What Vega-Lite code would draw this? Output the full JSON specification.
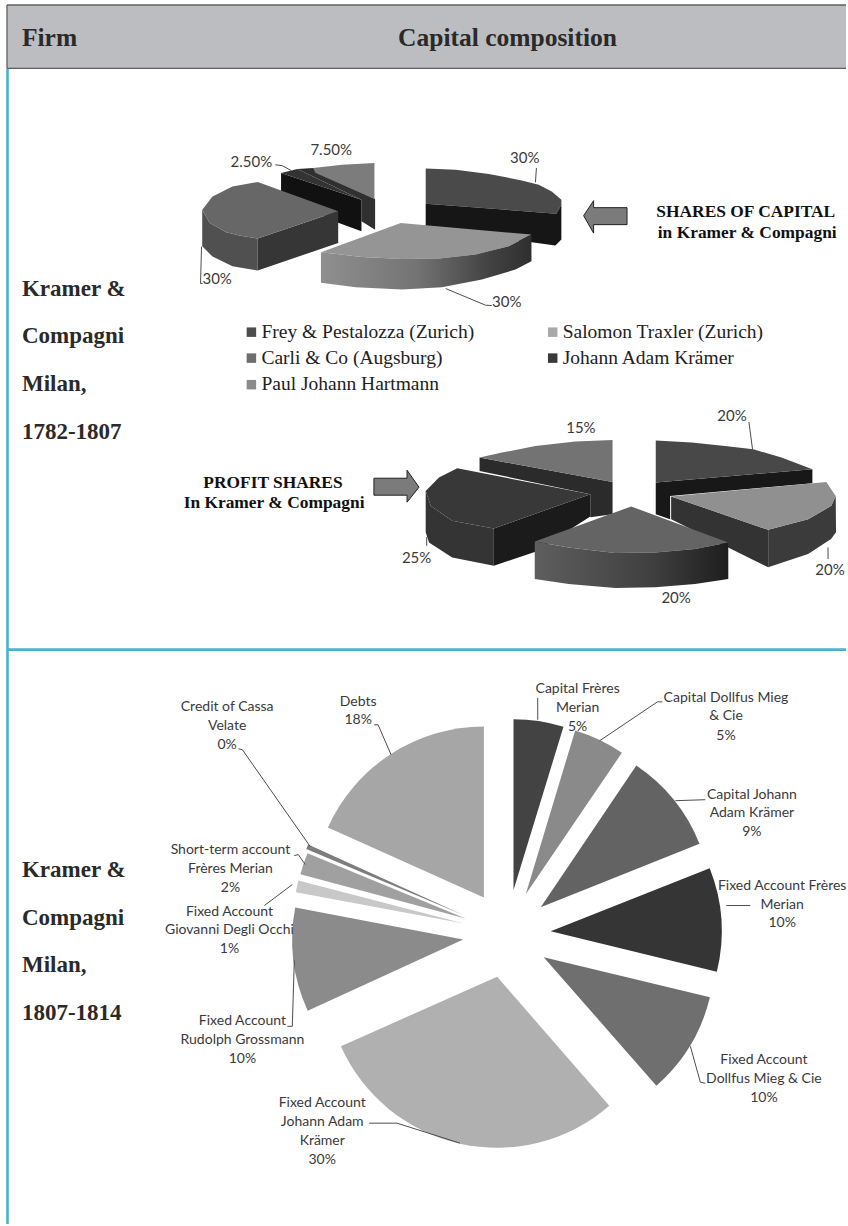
{"$schema":"https://vega.github.io/schema/vega-lite/v6.json","width":848,"height":1226,"autosize":{"type":"fit","contains":"padding"},"padding":0,"background":"white","view":{"stroke":null},
"encoding":{"x":{"field":"x","type":"quantitative","scale":{"domain":[0,848],"nice":false,"zero":false},"axis":null},"y":{"field":"y","type":"quantitative","scale":{"domain":[0,1226],"reverse":true,"nice":false,"zero":false},"axis":null}},
"resolve":{"scale":{"color":"independent"}},
"layer":[
{"data":{"values":[{"x":7,"x2":848,"y":5,"y2":68.5}]},"mark":{"type":"rect","fill":"#bcbdc0"},"encoding":{"x2":{"field":"x2"},"y2":{"field":"y2"}}},
{"data":{"values":[{"x":7,"x2":848,"y":5,"y2":5},{"x":7,"x2":848,"y":68.5,"y2":68.5},{"x":7,"x2":7,"y":5,"y2":68.5}]},"mark":{"type":"rule","stroke":"#5f5f5f","strokeWidth":1.3},"encoding":{"x2":{"field":"x2"},"y2":{"field":"y2"}}},
{"data":{"values":[{"x":7.5,"x2":7.5,"y":69,"y2":1226},{"x":7,"x2":848,"y":650.7,"y2":650.7}]},"mark":{"type":"rule","stroke":"#4ab2cf","strokeWidth":2.6},"encoding":{"x2":{"field":"x2"},"y2":{"field":"y2"}}},
{"data":{"values":[
{"f":"Atop","i":0,"x":426.7,"y":168.7},{"f":"Atop","i":1,"x":456.7,"y":170},{"f":"Atop","i":2,"x":490,"y":174.3},{"f":"Atop","i":3,"x":523,"y":180.7},{"f":"Atop","i":4,"x":540,"y":185},{"f":"Atop","i":5,"x":553,"y":191.7},{"f":"Atop","i":6,"x":562.7,"y":200},{"f":"Atop","i":7,"x":562.7,"y":205},{"f":"Atop","i":8,"x":557.7,"y":214},{"f":"Atop","i":9,"x":426.7,"y":204},
{"f":"Aside","i":0,"x":426.7,"y":204},{"f":"Aside","i":1,"x":557.7,"y":214},{"f":"Aside","i":2,"x":562.7,"y":205},{"f":"Aside","i":3,"x":562.7,"y":240},{"f":"Aside","i":4,"x":556.7,"y":246},{"f":"Aside","i":5,"x":533,"y":242.7},{"f":"Aside","i":6,"x":426.7,"y":232},
{"f":"Eside","i":0,"x":298,"y":169.3},{"f":"Eside","i":1,"x":314,"y":168.3},{"f":"Eside","i":2,"x":376,"y":199.3},{"f":"Eside","i":3,"x":376,"y":230},{"f":"Eside","i":4,"x":362.3,"y":221.7},{"f":"Eside","i":5,"x":362.3,"y":200},
{"f":"Etop","i":0,"x":375.3,"y":163.3},{"f":"Etop","i":1,"x":343,"y":165},{"f":"Etop","i":2,"x":314,"y":168.3},{"f":"Etop","i":3,"x":316,"y":173},{"f":"Etop","i":4,"x":375.3,"y":199.3},
{"f":"Dside","i":0,"x":281.7,"y":173.3},{"f":"Dside","i":1,"x":362.3,"y":200},{"f":"Dside","i":2,"x":362.3,"y":231.7},{"f":"Dside","i":3,"x":339,"y":223},{"f":"Dside","i":4,"x":281.7,"y":192},
{"f":"Dtop","i":0,"x":281.7,"y":173.3},{"f":"Dtop","i":1,"x":298,"y":169.3},{"f":"Dtop","i":2,"x":310,"y":175},{"f":"Dtop","i":3,"x":362.3,"y":200},
{"f":"Bcurve","i":0,"x":202.7,"y":210},{"f":"Bcurve","i":1,"x":210,"y":223},{"f":"Bcurve","i":2,"x":226.7,"y":232.7},{"f":"Bcurve","i":3,"x":240,"y":236},{"f":"Bcurve","i":4,"x":258.3,"y":239},{"f":"Bcurve","i":5,"x":258.3,"y":271},{"f":"Bcurve","i":6,"x":233,"y":266.7},{"f":"Bcurve","i":7,"x":213,"y":257},{"f":"Bcurve","i":8,"x":202.7,"y":246.7},
{"f":"Bcut","i":0,"x":258.3,"y":239},{"f":"Bcut","i":1,"x":339,"y":211.7},{"f":"Bcut","i":2,"x":339,"y":243.3},{"f":"Bcut","i":3,"x":258.3,"y":271},
{"f":"Btop","i":0,"x":339,"y":211.7},{"f":"Btop","i":1,"x":258.3,"y":182.3},{"f":"Btop","i":2,"x":233,"y":186.7},{"f":"Btop","i":3,"x":213,"y":196.7},{"f":"Btop","i":4,"x":202.7,"y":210},{"f":"Btop","i":5,"x":210,"y":223},{"f":"Btop","i":6,"x":226.7,"y":232.7},{"f":"Btop","i":7,"x":240,"y":236},{"f":"Btop","i":8,"x":258.3,"y":239},
{"f":"Ctop","i":0,"x":401.7,"y":223.3},{"f":"Ctop","i":1,"x":532.7,"y":235},{"f":"Ctop","i":2,"x":510,"y":246.7},{"f":"Ctop","i":3,"x":476.7,"y":255},{"f":"Ctop","i":4,"x":440,"y":259},{"f":"Ctop","i":5,"x":403,"y":259.3},{"f":"Ctop","i":6,"x":363,"y":257.3},{"f":"Ctop","i":7,"x":321.7,"y":252.7},
{"f":"Pside","i":0,"x":480.7,"y":458.3},{"f":"Pside","i":1,"x":614,"y":482.7},{"f":"Pside","i":2,"x":614,"y":515},{"f":"Pside","i":3,"x":591.7,"y":518},{"f":"Pside","i":4,"x":591.7,"y":495},{"f":"Pside","i":5,"x":480.7,"y":471.7},
{"f":"Ptop","i":0,"x":614,"y":440.7},{"f":"Ptop","i":1,"x":576.7,"y":442.3},{"f":"Ptop","i":2,"x":536.7,"y":446.7},{"f":"Ptop","i":3,"x":503.3,"y":453.3},{"f":"Ptop","i":4,"x":480.7,"y":458.3},{"f":"Ptop","i":5,"x":614,"y":482.7},
{"f":"Tside","i":0,"x":657.3,"y":483.3},{"f":"Tside","i":1,"x":814.3,"y":470},{"f":"Tside","i":2,"x":814.3,"y":484},{"f":"Tside","i":3,"x":671.7,"y":496.7},{"f":"Tside","i":4,"x":671.7,"y":520},{"f":"Tside","i":5,"x":657.3,"y":515},
{"f":"Ttop","i":0,"x":657.3,"y":441.3},{"f":"Ttop","i":1,"x":693.3,"y":443.3},{"f":"Ttop","i":2,"x":726.7,"y":446.7},{"f":"Ttop","i":3,"x":755,"y":450},{"f":"Ttop","i":4,"x":783.3,"y":458.3},{"f":"Ttop","i":5,"x":814.3,"y":470},{"f":"Ttop","i":6,"x":657.3,"y":483.3},
{"f":"Lcurve","i":0,"x":426.7,"y":491.7},{"f":"Lcurve","i":1,"x":431.7,"y":506.7},{"f":"Lcurve","i":2,"x":453.3,"y":521.7},{"f":"Lcurve","i":3,"x":495,"y":529.3},{"f":"Lcurve","i":4,"x":495,"y":566.7},{"f":"Lcurve","i":5,"x":453.3,"y":558.3},{"f":"Lcurve","i":6,"x":430,"y":543.3},{"f":"Lcurve","i":7,"x":426.7,"y":533},
{"f":"Lcut","i":0,"x":495,"y":529.3},{"f":"Lcut","i":1,"x":591.7,"y":495},{"f":"Lcut","i":2,"x":591.7,"y":517.3},{"f":"Lcut","i":3,"x":536,"y":553},{"f":"Lcut","i":4,"x":495,"y":566.7},
{"f":"Ltop","i":0,"x":591.7,"y":495},{"f":"Ltop","i":1,"x":458.3,"y":469},{"f":"Ltop","i":2,"x":440,"y":478.3},{"f":"Ltop","i":3,"x":426.7,"y":491.7},{"f":"Ltop","i":4,"x":431.7,"y":506.7},{"f":"Ltop","i":5,"x":453.3,"y":521.7},{"f":"Ltop","i":6,"x":495,"y":529.3},
{"f":"Rcut","i":0,"x":672.7,"y":497.3},{"f":"Rcut","i":1,"x":770,"y":530.7},{"f":"Rcut","i":2,"x":770,"y":568.3},{"f":"Rcut","i":3,"x":672.7,"y":520},
{"f":"Rcurve","i":0,"x":770,"y":530.7},{"f":"Rcurve","i":1,"x":810,"y":520},{"f":"Rcurve","i":2,"x":833.3,"y":506.7},{"f":"Rcurve","i":3,"x":837.7,"y":496.7},{"f":"Rcurve","i":4,"x":838,"y":533},{"f":"Rcurve","i":5,"x":833,"y":540},{"f":"Rcurve","i":6,"x":810,"y":555},{"f":"Rcurve","i":7,"x":770,"y":568.3},
{"f":"Rtop","i":0,"x":672.7,"y":497.3},{"f":"Rtop","i":1,"x":828.3,"y":482.7},{"f":"Rtop","i":2,"x":837.7,"y":496.7},{"f":"Rtop","i":3,"x":833.3,"y":506.7},{"f":"Rtop","i":4,"x":810,"y":520},{"f":"Rtop","i":5,"x":770,"y":530.7},
{"f":"Stop","i":0,"x":632.7,"y":507.3},{"f":"Stop","i":1,"x":730,"y":543.3},{"f":"Stop","i":2,"x":696.7,"y":550},{"f":"Stop","i":3,"x":656.7,"y":553.3},{"f":"Stop","i":4,"x":616.7,"y":554},{"f":"Stop","i":5,"x":570,"y":548.3},{"f":"Stop","i":6,"x":536,"y":542.3}
]},"mark":{"type":"line","filled":true,"interpolate":"linear"},"encoding":{"order":{"field":"i"},"color":{"field":"f","type":"nominal","legend":null,"sort":null,"scale":{"domain":["Atop","Aside","Eside","Etop","Dside","Dtop","Bcurve","Bcut","Btop","Ctop","Pside","Ptop","Tside","Ttop","Lcurve","Lcut","Ltop","Rcut","Rcurve","Rtop","Stop"],"range":["#4a4a4a","#161616","#303030","#7c7c7c","#111111","#333333","#505050","#363636","#676767","#959595","#2b2b2b","#737373","#181818","#484848","#343434","#1b1b1b","#383838","#333333","#3b3b3b","#909090","#646464"]}}}},
{"data":{"values":[
{"f":"Cside","i":0,"x":321.7,"y":252.7},{"f":"Cside","i":1,"x":363,"y":257.3},{"f":"Cside","i":2,"x":403,"y":259.3},{"f":"Cside","i":3,"x":440,"y":259},{"f":"Cside","i":4,"x":476.7,"y":255},{"f":"Cside","i":5,"x":510,"y":246.7},{"f":"Cside","i":6,"x":532.7,"y":235},{"f":"Cside","i":7,"x":532.7,"y":261.7},{"f":"Cside","i":8,"x":516.7,"y":270},{"f":"Cside","i":9,"x":483,"y":280},{"f":"Cside","i":10,"x":443,"y":287.7},{"f":"Cside","i":11,"x":403,"y":290},{"f":"Cside","i":12,"x":356.7,"y":287.7},{"f":"Cside","i":13,"x":321.7,"y":283.3}
]},"mark":{"type":"line","filled":true,"fill":{"gradient":"linear","x1":0,"x2":1,"y1":0,"y2":0,"stops":[{"offset":0,"color":"#8f8f8f"},{"offset":0.45,"color":"#747474"},{"offset":0.8,"color":"#424242"},{"offset":1,"color":"#2f2f2f"}]}},"encoding":{"order":{"field":"i"},"detail":{"field":"f"}}},
{"data":{"values":[
{"f":"Sside","i":0,"x":536,"y":542.3},{"f":"Sside","i":1,"x":570,"y":548.3},{"f":"Sside","i":2,"x":616.7,"y":554},{"f":"Sside","i":3,"x":656.7,"y":553.3},{"f":"Sside","i":4,"x":696.7,"y":550},{"f":"Sside","i":5,"x":730,"y":543.3},{"f":"Sside","i":6,"x":730,"y":580},{"f":"Sside","i":7,"x":696.7,"y":585},{"f":"Sside","i":8,"x":656.7,"y":588.3},{"f":"Sside","i":9,"x":616.7,"y":589},{"f":"Sside","i":10,"x":570,"y":585},{"f":"Sside","i":11,"x":536,"y":580}
]},"mark":{"type":"line","filled":true,"fill":{"gradient":"linear","x1":0,"x2":1,"y1":0,"y2":0,"stops":[{"offset":0,"color":"#5e5e5e"},{"offset":0.6,"color":"#404040"},{"offset":1,"color":"#1e1e1e"}]}},"encoding":{"order":{"field":"i"},"detail":{"field":"f"}}},
{"data":{"values":[
{"f":"a1","i":0,"x":585,"y":216},{"f":"a1","i":1,"x":595,"y":201},{"f":"a1","i":2,"x":595,"y":208},{"f":"a1","i":3,"x":628.5,"y":208},{"f":"a1","i":4,"x":628.5,"y":225},{"f":"a1","i":5,"x":595,"y":225},{"f":"a1","i":6,"x":595,"y":233.5},{"f":"a1","i":7,"x":585,"y":216},
{"f":"a2","i":0,"x":374.8,"y":479},{"f":"a2","i":1,"x":408,"y":479},{"f":"a2","i":2,"x":408,"y":471},{"f":"a2","i":3,"x":420,"y":488},{"f":"a2","i":4,"x":408,"y":503},{"f":"a2","i":5,"x":408,"y":496},{"f":"a2","i":6,"x":374.8,"y":496},{"f":"a2","i":7,"x":374.8,"y":479}
]},"mark":{"type":"line","filled":true,"fill":"#7b7b7b","stroke":"#222222","strokeWidth":1},"encoding":{"order":{"field":"i"},"detail":{"field":"f"}}},
{"data":{"values":[
{"label":"Debts","x":485,"y":899,"start":294.2,"end":360},
{"label":"Capital Frères Merian","x":514.7,"y":891.7,"start":0,"end":17},
{"label":"Capital Dollfus Mieg & Cie","x":527,"y":895.7,"start":16.8,"end":34.2},
{"label":"Capital Johann Adam Krämer","x":542,"y":908.7,"start":34,"end":68.2},
{"label":"Fixed Account Frères Merian","x":552,"y":932.7,"start":68.4,"end":103.7},
{"label":"Fixed Account Dollfus Mieg & Cie","x":545,"y":958.7,"start":103.6,"end":138.8},
{"label":"Fixed Account Johann Adam Krämer","x":498.3,"y":978.3,"start":139,"end":246},
{"label":"Fixed Account Rudolph Grossmann","x":464.3,"y":941,"start":245.4,"end":280.8},
{"label":"Fixed Account Giovanni Degli Occhi","x":465,"y":925,"start":280.5,"end":284.6},
{"label":"Short-term account Frères Merian","x":466.7,"y":920,"start":285,"end":292.4},
{"label":"Credit of Cassa Velate","x":465,"y":916.7,"start":292.8,"end":294.4}
]},"mark":{"type":"arc","outerRadius":171},"encoding":{"theta":{"field":"start","type":"quantitative","stack":null,"scale":{"domain":[0,360],"range":[0,6.283185]}},"theta2":{"field":"end"},"color":{"field":"label","type":"nominal","legend":null,"scale":{"domain":["Debts","Capital Frères Merian","Capital Dollfus Mieg & Cie","Capital Johann Adam Krämer","Fixed Account Frères Merian","Fixed Account Dollfus Mieg & Cie","Fixed Account Johann Adam Krämer","Fixed Account Rudolph Grossmann","Fixed Account Giovanni Degli Occhi","Short-term account Frères Merian","Credit of Cassa Velate"],"range":["#a6a6a6","#434343","#8a8a8a","#636363","#353535","#6f6f6f","#b0b0b0","#8b8b8b","#c8c8c8","#a0a0a0","#7d7d7d"]}}}},
{"data":{"values":[
{"l":"1","i":0,"x":537.7,"y":168.3},{"l":"1","i":1,"x":536.7,"y":182.7},
{"l":"2","i":0,"x":276,"y":165},{"l":"2","i":1,"x":283,"y":166},{"l":"2","i":2,"x":291.7,"y":170.7},
{"l":"3","i":0,"x":202,"y":247},{"l":"3","i":1,"x":201,"y":284},{"l":"3","i":2,"x":203,"y":284},
{"l":"4","i":0,"x":446.7,"y":289},{"l":"4","i":1,"x":486.7,"y":305.7},{"l":"4","i":2,"x":493,"y":306},
{"l":"5","i":0,"x":750.7,"y":422.7},{"l":"5","i":1,"x":754.3,"y":450},
{"l":"6","i":0,"x":427.7,"y":538},{"l":"6","i":1,"x":427.7,"y":546.7},
{"l":"7","i":0,"x":830,"y":548.3},{"l":"7","i":1,"x":830,"y":560},
{"l":"8","i":0,"x":239,"y":750},{"l":"8","i":1,"x":243,"y":751},{"l":"8","i":2,"x":311,"y":848},
{"l":"9","i":0,"x":375,"y":726},{"l":"9","i":1,"x":379,"y":726},{"l":"9","i":2,"x":392,"y":756},
{"l":"10","i":0,"x":295,"y":857},{"l":"10","i":1,"x":299,"y":856},{"l":"10","i":2,"x":306,"y":866},
{"l":"11","i":0,"x":265,"y":907},{"l":"11","i":1,"x":293,"y":886},
{"l":"12","i":0,"x":288,"y":1028},{"l":"12","i":1,"x":293,"y":1028},{"l":"12","i":2,"x":295,"y":962},
{"l":"13","i":0,"x":539,"y":699},{"l":"13","i":1,"x":539,"y":721},
{"l":"14","i":0,"x":664,"y":703},{"l":"14","i":1,"x":659,"y":703},{"l":"14","i":2,"x":601,"y":742},
{"l":"15","i":0,"x":707,"y":801},{"l":"15","i":1,"x":677,"y":802},
{"l":"16","i":0,"x":728,"y":907},{"l":"16","i":1,"x":752,"y":907},
{"l":"17","i":0,"x":692,"y":1048},{"l":"17","i":1,"x":702,"y":1084},{"l":"17","i":2,"x":707,"y":1085},
{"l":"18","i":0,"x":370,"y":1125},{"l":"18","i":1,"x":398,"y":1125},{"l":"18","i":2,"x":461,"y":1145}
]},"mark":{"type":"line","stroke":"#4d4d4d","strokeWidth":1},"encoding":{"order":{"field":"i"},"detail":{"field":"l"}}},
{"data":{"values":[
{"n":"Frey & Pestalozza (Zurich)","x":252,"y":332.7},{"n":"Salomon Traxler (Zurich)","x":554,"y":332.7},{"n":"Carli & Co (Augsburg)","x":252,"y":358.7},{"n":"Johann Adam Krämer","x":554,"y":358.7},{"n":"Paul Johann Hartmann","x":252,"y":385.3}
]},"mark":{"type":"point","shape":"square","filled":true,"size":90,"opacity":1},"encoding":{"color":{"field":"n","type":"nominal","legend":null,"scale":{"domain":["Frey & Pestalozza (Zurich)","Salomon Traxler (Zurich)","Carli & Co (Augsburg)","Johann Adam Krämer","Paul Johann Hartmann"],"range":["#4d4d4d","#a9a9a9","#6e6e6e","#3a3a3a","#8b8b8b"]}}}},
{"data":{"values":[
{"t":"Frey & Pestalozza (Zurich)","x":262,"y":333},{"t":"Salomon Traxler (Zurich)","x":564,"y":333},{"t":"Carli & Co (Augsburg)","x":262,"y":359},{"t":"Johann Adam Krämer","x":564,"y":359},{"t":"Paul Johann Hartmann","x":262,"y":385}
]},"mark":{"type":"text","font":"Liberation Serif","fontSize":19.5,"align":"left","baseline":"middle","fill":"#222222"},"encoding":{"text":{"field":"t"}}},
{"data":{"values":[
{"t":"Firm","x":22,"y":38},{"t":"Capital composition","x":399,"y":38}
]},"mark":{"type":"text","font":"Liberation Serif","fontWeight":"bold","fontSize":25.5,"align":"left","baseline":"middle","fill":"#2a2a2a"},"encoding":{"text":{"field":"t"}}},
{"data":{"values":[
{"t":"Kramer &","x":22,"y":289},{"t":"Compagni","x":22,"y":337},{"t":"Milan,","x":22,"y":385},{"t":"1782-1807","x":22,"y":433},{"t":"Kramer &","x":22,"y":871},{"t":"Compagni","x":22,"y":919},{"t":"Milan,","x":22,"y":967},{"t":"1807-1814","x":22,"y":1015}
]},"mark":{"type":"text","font":"Liberation Serif","fontWeight":"bold","fontSize":23,"align":"left","baseline":"middle","fill":"#2a2a2a"},"encoding":{"text":{"field":"t"}}},
{"data":{"values":[
{"t":"SHARES OF CAPITAL","x":747.5,"y":212},{"t":"in Kramer & Compagni","x":749,"y":233},{"t":"PROFIT SHARES","x":273.6,"y":484},{"t":"In Kramer & Compagni","x":274.7,"y":504}
]},"mark":{"type":"text","font":"Liberation Serif","fontWeight":"bold","fontSize":17.4,"align":"center","baseline":"middle","fill":"#111111"},"encoding":{"text":{"field":"t"}}},
{"data":{"values":[
{"t":"2.50%","x":252,"y":162.7},{"t":"7.50%","x":332,"y":150},{"t":"30%","x":526,"y":158},{"t":"30%","x":508,"y":302},{"t":"30%","x":217.7,"y":279},
{"t":"20%","x":733.7,"y":416.7},{"t":"15%","x":582.3,"y":428.3},{"t":"25%","x":417.6,"y":559},{"t":"20%","x":677.7,"y":599.3},{"t":"20%","x":832,"y":571}
]},"mark":{"type":"text","font":"Lato","fontSize":15,"align":"center","baseline":"middle","fill":"#3a3a3a"},"encoding":{"text":{"field":"t"}}},
{"data":{"values":[
{"t":"Credit of Cassa","x":227.7,"y":708},{"t":"Velate","x":227.7,"y":727},{"t":"0%","x":227.7,"y":746},
{"t":"Debts","x":359,"y":702.7},{"t":"18%","x":359,"y":721},
{"t":"Short-term account","x":231,"y":851},{"t":"Frères Merian","x":231,"y":870},{"t":"2%","x":231,"y":889},
{"t":"Fixed Account","x":230,"y":913},{"t":"Giovanni Degli Occhi","x":230,"y":932},{"t":"1%","x":230,"y":951},
{"t":"Fixed Account","x":243,"y":1023},{"t":"Rudolph Grossmann","x":243,"y":1042},{"t":"10%","x":243,"y":1061},
{"t":"Capital Frères","x":579,"y":690},{"t":"Merian","x":579,"y":709},{"t":"5%","x":579,"y":728},
{"t":"Capital Dollfus Mieg","x":727.7,"y":698.7},{"t":"& Cie","x":727.7,"y":717},{"t":"5%","x":727.7,"y":737},
{"t":"Capital Johann","x":753.7,"y":796},{"t":"Adam Krämer","x":753.7,"y":814.7},{"t":"9%","x":753.7,"y":833.7},
{"t":"Fixed Account Frères","x":784,"y":887},{"t":"Merian","x":784,"y":906},{"t":"10%","x":784,"y":925},
{"t":"Fixed Account","x":765.7,"y":1062},{"t":"Dollfus Mieg & Cie","x":765.7,"y":1081},{"t":"10%","x":765.7,"y":1100},
{"t":"Fixed Account","x":323,"y":1105},{"t":"Johann Adam","x":323,"y":1124},{"t":"Krämer","x":323,"y":1143},{"t":"30%","x":323,"y":1162}
]},"mark":{"type":"text","font":"Lato","fontSize":14,"align":"center","baseline":"middle","fill":"#3a3a3a"},"encoding":{"text":{"field":"t"}}}
]}
